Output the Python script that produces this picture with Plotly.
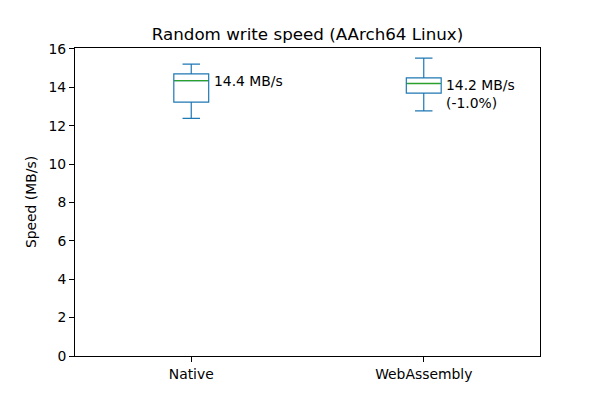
import plotly.graph_objects as go

categories = ["Native", "WebAssembly"]
positions = [1, 2]
lower_whisker = [12.38, 12.77]
q1 = [13.23, 13.70]
median = [14.35, 14.20]
q3 = [14.70, 14.49]
upper_whisker = [15.21, 15.52]
labels = ["14.4 MB/s", "14.2 MB/s<br>(-1.0%)"]

BOX_W = 0.15
FONT = "DejaVu Sans"
BLUE = "#1f77b4"
GREEN = "#2ca02c"

fig = go.Figure()
for i, cat in enumerate(categories):
    fig.add_trace(go.Box(
        x=[positions[i]], q1=[q1[i]], median=[median[i]], q3=[q3[i]],
        lowerfence=[lower_whisker[i]], upperfence=[upper_whisker[i]],
        width=BOX_W, whiskerwidth=0.5, boxpoints=False,
        line=dict(color=BLUE, width=1.2), fillcolor="rgba(0,0,0,0)",
        showlegend=False, hoverinfo="skip", name=cat,
    ))

mx, my = [], []
for i in range(len(categories)):
    mx += [positions[i] - BOX_W / 2 + 0.003, positions[i] + BOX_W / 2 - 0.003, None]
    my += [median[i], median[i], None]
fig.add_trace(go.Scatter(
    x=mx, y=my, mode="lines", connectgaps=False,
    line=dict(color=GREEN, width=1.3), showlegend=False, hoverinfo="skip",
))

for i in range(len(categories)):
    fig.add_annotation(
        x=positions[i] + 0.1, y=q3[i], text=labels[i], showarrow=False,
        xanchor="left", yanchor="top", align="left", xshift=-3, yshift=3,
        font=dict(family=FONT, size=13.9, color="black"),
    )

axis_common = dict(
    showline=True, linecolor="black", linewidth=1, mirror=True,
    ticks="outside", ticklen=5, tickcolor="black", showgrid=False, zeroline=False,
    tickfont=dict(family=FONT, size=13.9, color="black"),
)
fig.update_xaxes(range=[0.5, 2.5], tickvals=positions, ticktext=categories, **axis_common)
fig.update_yaxes(range=[0, 16.05], tickvals=list(range(0, 17, 2)),
                 title=dict(text="Speed (MB/s)", font=dict(family=FONT, size=13.9, color="black"), standoff=8),
                 **axis_common)
fig.update_layout(
    width=600, height=400,
    margin=dict(l=75, r=60, t=48, b=44),
    plot_bgcolor="white", paper_bgcolor="white",
    title=dict(text="Random write speed (AArch64 Linux)", x=0.5, xref="paper", xanchor="center",
               y=1, yref="paper", yanchor="bottom", pad=dict(b=8),
               font=dict(family=FONT, size=16.7, color="black")),
)
fig.write_html("out.html")
